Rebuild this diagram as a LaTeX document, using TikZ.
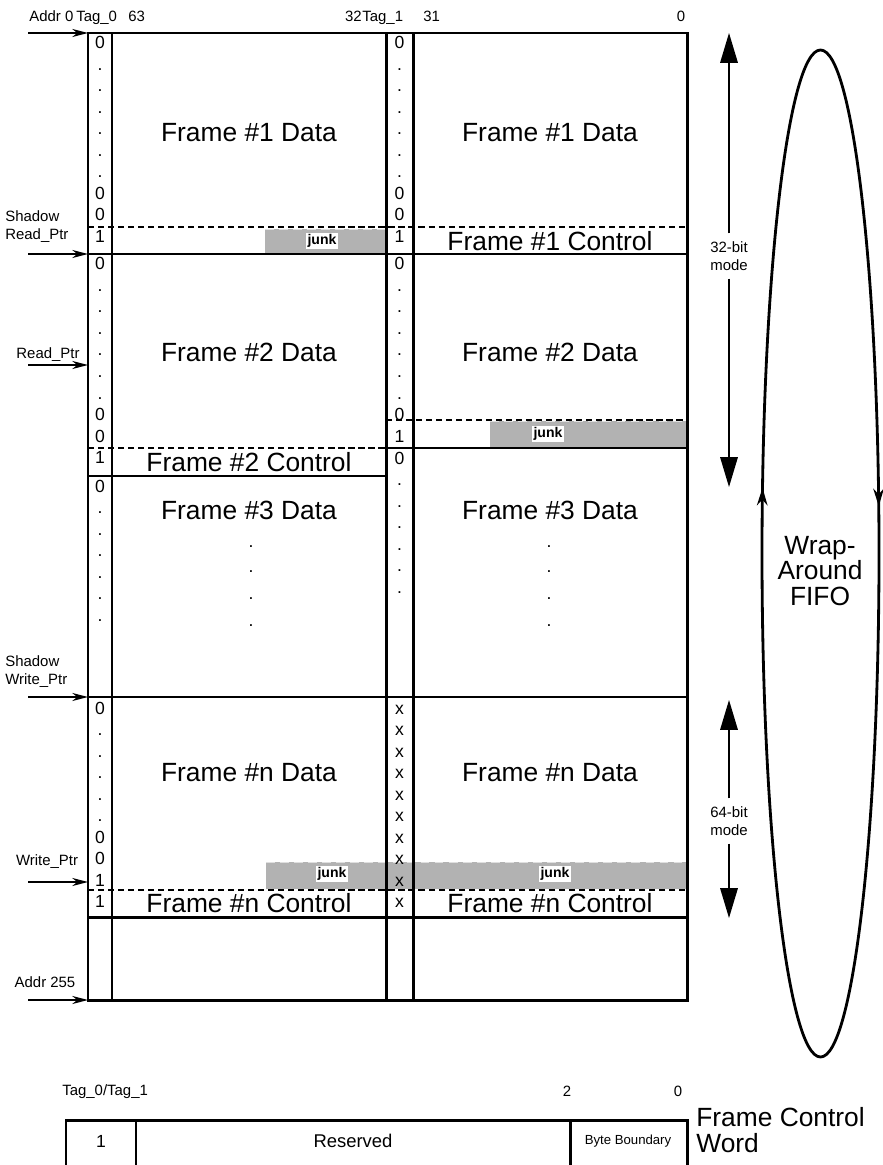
\documentclass[tikz,border=0pt]{standalone}
\usepackage{fontspec}
\setmainfont{Liberation Sans}
\usetikzlibrary{arrows.meta,decorations.markings}

\begin{document}
\begin{tikzpicture}[x=0.02cm, y=-0.02cm,
    gridline/.style={line width=1.7pt},
    sepline/.style={line width=1.1pt, dash pattern=on 3.5pt off 2.2pt},
    bit/.style={font=\fontsize{10}{12}\selectfont, anchor=base, inner sep=0pt},
    lbl/.style={font=\fontsize{15}{14.5}\selectfont, inner sep=0pt},
    small/.style={font=\fontsize{8.5}{10.2}\selectfont, inner sep=0pt},
    junkfill/.style={fill=gray!60},
    junkedge/.style={draw=gray!25, line width=1pt, dash pattern=on 5pt off 3pt},
    junktxt/.style={font=\bfseries\fontsize{8}{9}\selectfont, fill=white, inner sep=0.8pt},
    ptr/.style={line width=0.9pt, -{Stealth[length=9pt, width=4.6pt]}},
    modearrow/.style={line width=0.8pt, -{Triangle[length=17pt, width=10pt]}},
    fifo/.style={line width=1.6pt},
  ]
  \useasboundingbox (0,0) rectangle (882,1165);

  % Séparateurs en pointillés (mot de contrôle)
  \draw[sepline] (88,227) -- (687,227);
  \draw[sepline] (386,420) -- (687,420);
  \draw[sepline] (88,448) -- (386,448);
  \draw[sepline] (88,890) -- (687,890);

  % Zones junk
  \fill[junkfill] (265,229) rectangle (385,253);
  \draw[junkedge] (265,229.5) -- (385,229.5);
  \fill[junkfill] (490,421) rectangle (686,447);
  \draw[junkedge] (490,421.5) -- (686,421.5);
  \fill[junkfill] (266,862) rectangle (686,889);
  \draw[junkedge] (266,862.5) -- (686,862.5);
  \node[junktxt] (j1) at (322,241) {junk};
  \node[junktxt] (j2) at (548,434) {junk};
  \node[junktxt] (j3) at (332,874) {junk};
  \node[junktxt] (j4) at (555,874) {junk};

  % Bits Tag_0 / Tag_1 de chaque trame
  \foreach \c [count=\k] in {0,.,.,.,.,.,.,0,0,1}
    \node[bit] (t1l-\k) at (100, 27.5+21.5*\k) {\c};
  \foreach \c [count=\k] in {0,.,.,.,.,.,.,0,0,1}
    \node[bit] (t1r-\k) at (399.5, 27.5+21.5*\k) {\c};
  \foreach \c [count=\k] in {0,.,.,.,.,.,.,0,0,1}
    \node[bit] (t2l-\k) at (100, 248.5+21.5*\k) {\c};
  \foreach \c [count=\k] in {0,.,.,.,.,.,.,0,1}
    \node[bit] (t2r-\k) at (399.5, 248.5+21.5*\k) {\c};
  \foreach \c [count=\k] in {0,.,.,.,.,.,.}
    \node[bit] (t3l-\k) at (100, 470.5+21.5*\k) {\c};
  \foreach \c [count=\k] in {0,.,.,.,.,.,.}
    \node[bit] (t3r-\k) at (399.5, 442.5+21.5*\k) {\c};
  \foreach \c [count=\k] in {0,.,.,.,.,.,0,0,1,1}
    \node[bit] (tnl-\k) at (100, 692.5+21.5*\k) {\c};
  \foreach \c [count=\k] in {x,x,x,x,x,x,x,x,x,x}
    \node[bit] (tnr-\k) at (399.5, 692.5+21.5*\k) {\c};

  % Contenu des trames
  \node[lbl] (d1l) at (249,133) {Frame \#1 Data};
  \node[lbl] (d1r) at (550,133) {Frame \#1 Data};
  \node[lbl] (c1r) at (550,241) {Frame \#1 Control};
  \node[lbl] (d2l) at (249,352) {Frame \#2 Data};
  \node[lbl] (d2r) at (550,352) {Frame \#2 Data};
  \node[lbl] (c2l) at (249,462) {Frame \#2 Control};
  \node[lbl] (d3l) at (249,510) {Frame \#3 Data};
  \node[lbl] (d3r) at (550,510) {Frame \#3 Data};
  \foreach \y [count=\k] in {547,572,599,626} {
    \node[bit] (v3l-\k) at (251,\y) {.};
    \node[bit] (v3r-\k) at (549,\y) {.};
  }
  \node[lbl] (dnl) at (249,773) {Frame \#n Data};
  \node[lbl] (dnr) at (550,773) {Frame \#n Data};
  \node[lbl] (cnl) at (249,903) {Frame \#n Control};
  \node[lbl] (cnr) at (550,903) {Frame \#n Control};

  % Grille de la mémoire
  \draw[gridline] (88,33) rectangle (687,1000);
  \foreach \x in {112,386,413}
    \draw[gridline] (\x,33) -- (\x,1000);
  \foreach \y in {254,697,917}
    \draw[gridline] (88,\y) -- (687,\y);
  \draw[gridline] (386,448) -- (687,448);
  \draw[gridline] (88,476) -- (386,476);

  % En-tête des bits
  \node[small, anchor=base west] (addr0) at (29,22) {Addr 0};
  \node[small, anchor=base west] (tag0) at (76,22) {Tag\_0};
  \node[small, anchor=base west] (b63) at (128,22) {63};
  \node[small, anchor=base east] (b32) at (362,22) {32};
  \node[small, anchor=base west] (tag1) at (362,22) {Tag\_1};
  \node[small, anchor=base west] (b31) at (423,22) {31};
  \node[small, anchor=base] (b0) at (681,22) {0};

  % Pointeurs
  \foreach \y/\n in {33/a0, 254/srp, 365/rp, 697/swp, 882/wp, 1000/a255} {
    \coordinate (\n) at (88,\y);
    \coordinate (\n-s) at (28,\y);
    \draw[ptr] (\n-s) -- (\n);
  }
  \node[small, align=left, anchor=west] (srpl) at (5,227) {Shadow\\Read\_Ptr};
  \node[small] (rpl) at (48,355) {Read\_Ptr};
  \node[small, align=left, anchor=west] (swpl) at (5,672) {Shadow\\Write\_Ptr};
  \node[small] (wpl) at (47,862) {Write\_Ptr};
  \node[small] (a255l) at (45,982) {Addr 255};

  % Modes 32 / 64 bits
  \node[small, align=center, inner sep=4.5pt] (m32) at (729,256) {32-bit\\mode};
  \coordinate (m32t) at (729,33);
  \coordinate (m32b) at (729,487);
  \draw[modearrow] (m32) -- (m32t);
  \draw[modearrow] (m32) -- (m32b);
  \node[small, align=center, inner sep=4.5pt] (m64) at (729,821) {64-bit\\mode};
  \coordinate (m64t) at (729,700);
  \coordinate (m64b) at (729,918);
  \draw[modearrow] (m64) -- (m64t);
  \draw[modearrow] (m64) -- (m64b);

  % FIFO circulaire
  \draw[fifo, postaction={decorate}, decoration={markings,
      mark=at position 0.532 with {\arrow{Stealth[length=10pt, width=6pt]}},
      mark=at position 0.977 with {\arrow{Stealth[length=10pt, width=6pt]}}}]
    (820.5,553.5) ellipse [x radius=58.5, y radius=503.5];
  \node[lbl, align=center] (fifol) at (820,571) {Wrap-\\Around\\FIFO};

  % Mot de contrôle de trame
  \node[small, anchor=base west] (cwtag) at (62,1095) {Tag\_0/Tag\_1};
  \node[small, anchor=base] (cw2) at (567,1096) {2};
  \node[small, anchor=base] (cw0) at (678,1096) {0};
  \draw[gridline] (66,1170) -- (66,1120) -- (687,1120) -- (687,1170);
  \draw[gridline] (136,1120) -- (136,1170);
  \draw[gridline] (570,1120) -- (570,1170);
  \node[font=\fontsize{10}{12}\selectfont] (cw1) at (101,1141) {1};
  \node[font=\fontsize{10.5}{12}\selectfont] (cwres) at (353,1141) {Reserved};
  \node[font=\fontsize{7.5}{9}\selectfont] (cwbb) at (628,1141) {Byte Boundary};
  \node[lbl, align=left, anchor=west] (cwname) at (696,1130) {Frame Control\\Word};
\end{tikzpicture}
\end{document}
